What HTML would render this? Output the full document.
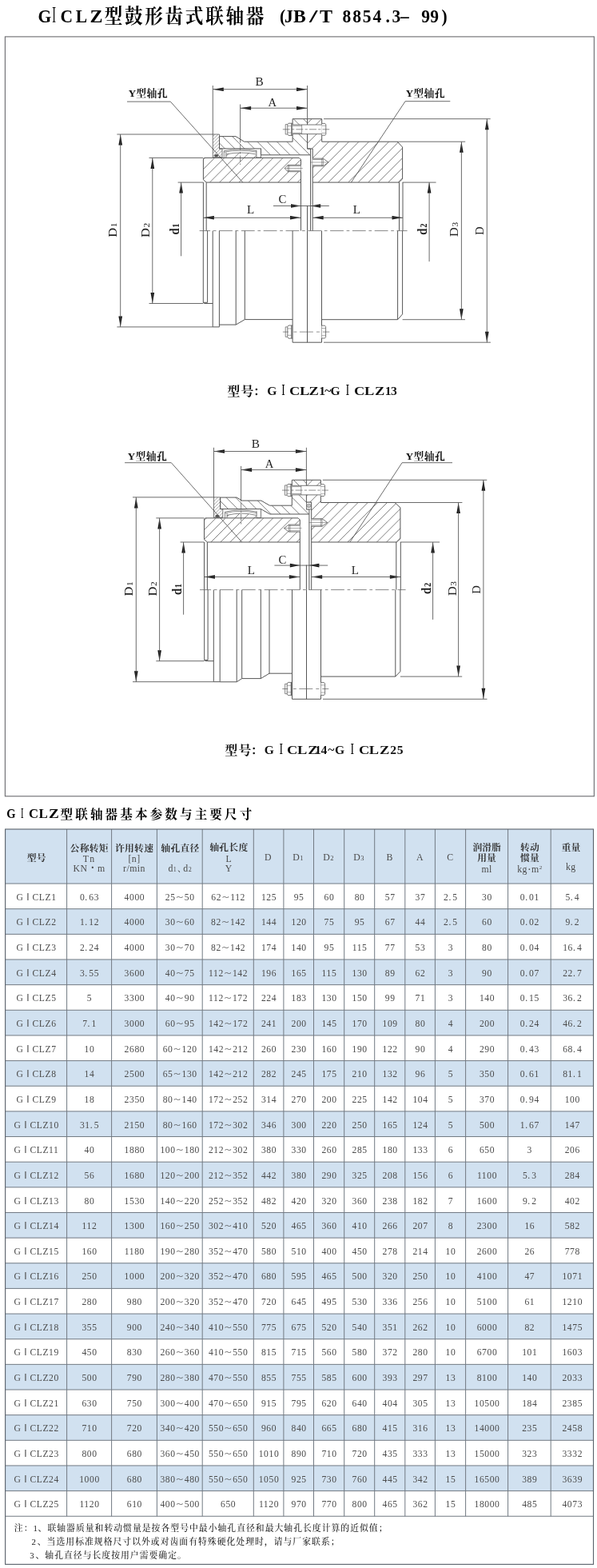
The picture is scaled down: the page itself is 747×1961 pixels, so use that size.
<!DOCTYPE html>
<html lang="zh"><head><meta charset="utf-8"><title>GICLZ型鼓形齿式联轴器 (JB/T 8854.3-99)</title>
<style>
html,body{margin:0;padding:0;background:#fff}
body{width:747px;height:1961px;position:relative;overflow:hidden;font-family:"Liberation Serif",serif}
svg text{white-space:pre}
.cjkb{font-family:"Liberation Serif","Noto Serif CJK SC",serif;font-weight:bold}
.cjkm{font-family:"Liberation Serif","Noto Serif CJK SC",serif;font-weight:500}
</style></head><body>
<svg width="747" height="1961" viewBox="0 0 747 1961" style="position:absolute;left:0;top:0;display:block;will-change:transform"><g transform="translate(0 28) scale(1 1.07) translate(0 -28)"><text style="font-family:'Liberation Serif',serif;font-weight:bold;font-size:21.5px" y="28" x="47.5">G</text><path d="M65.8 10.3h3.6v0.8h-1.2v15.8h1.2v0.8h-3.6v-0.8h1.2v-15.8h-1.2z" fill="#000"/><text style="font-family:'Liberation Serif',serif;font-weight:bold;font-size:21.5px" y="28" x="75.6 94.8 112.4">CL<tspan textLength="16" lengthAdjust="spacingAndGlyphs">Z</tspan></text><text style="font-family:'Liberation Serif',serif;font-weight:bold;font-size:21.5px" y="28"><tspan x="350">(</tspan><tspan x="356">J</tspan><tspan x="367.1" textLength="15.77" lengthAdjust="spacingAndGlyphs">B</tspan><tspan x="386.9" textLength="10.46" lengthAdjust="spacingAndGlyphs">/</tspan><tspan x="399.9" textLength="16.06" lengthAdjust="spacingAndGlyphs">T</tspan><tspan x="428.6">8</tspan><tspan x="441.2">8</tspan><tspan x="453.8">5</tspan><tspan x="466.4">4</tspan><tspan x="482.5">.</tspan><tspan x="490.5">3</tspan><tspan x="501">–</tspan><tspan x="527.3">9</tspan><tspan x="538.3">9</tspan><tspan x="552.5">)</tspan></text></g><text class="cjkb" transform="translate(130.8 28.9) scale(1 1.097)" x="0" y="0" fill="#000" style="font-size:22.6px;letter-spacing:2.67px">型鼓形齿式联轴器</text><rect x="6.4" y="45.9" width="737" height="949.9" fill="none" stroke="#707074" stroke-width="1.15"/><clipPath id="c1"><path d="M254.4 198.6L255.6 197.4L374.3 197.4L376.5 199.6L376.5 228.1L258.2 228.1L254.4 224.7L254.4 198.6L282.8 197.4L282.8 192.9L286.56 192.22L290.32 191.68L294.08 191.3L297.84 191.08L301.6 191L305.36 191.08L309.12 191.3L312.88 191.68L316.64 192.22L320.4 192.9L320.4 197.4L254.4 198.6Z" clip-rule="evenodd"/></clipPath><path d="M225.8 228.1L262.9 191M238 228.1L275.1 191M250.2 228.1L287.3 191M262.4 228.1L299.5 191M274.6 228.1L311.7 191M286.8 228.1L323.9 191M299 228.1L336.1 191M311.2 228.1L348.3 191M323.4 228.1L360.5 191M335.6 228.1L372.7 191M347.8 228.1L384.9 191M360 228.1L397.1 191M372.2 228.1L409.3 191" stroke="#5c5c5c" stroke-width="0.8" fill="none" clip-path="url(#c1)"/><path d="M254.4 198.6L255.6 197.4L374.3 197.4L376.5 199.6L376.5 228.1L258.2 228.1L254.4 224.7Z" stroke="#565656" stroke-width="1" fill="none"/><clipPath id="c2"><path d="M384.5 148.7L402.7 148.7L402.7 177.2L497.2 177.2L503.6 184L503.6 223.9L499 228.1L391.2 228.1L391.2 186L384.5 186Z" clip-rule="evenodd"/></clipPath><path d="M310.7 228.1L390.1 148.7M323.2 228.1L402.6 148.7M335.7 228.1L415.1 148.7M348.2 228.1L427.6 148.7M360.7 228.1L440.1 148.7M373.2 228.1L452.6 148.7M385.7 228.1L465.1 148.7M398.2 228.1L477.6 148.7M410.7 228.1L490.1 148.7M423.2 228.1L502.6 148.7M435.7 228.1L515.1 148.7M448.2 228.1L527.6 148.7M460.7 228.1L540.1 148.7M473.2 228.1L552.6 148.7M485.7 228.1L565.1 148.7M498.2 228.1L577.6 148.7" stroke="#5c5c5c" stroke-width="0.8" fill="none" clip-path="url(#c2)"/><path d="M384.5 148.7L402.7 148.7L402.7 177.2L497.2 177.2L503.6 184L503.6 223.9L499 228.1L391.2 228.1L391.2 186L384.5 186Z" stroke="#565656" stroke-width="1" fill="none"/><clipPath id="c3"><path d="M274.5 170.6L295 170.6L305.6 177.2L366.1 177.2L366.1 148.7L384.5 148.7L384.5 186L388.6 186L388.6 193.8L326.5 193.8L326.5 185.9L274.5 185.9Z" clip-rule="evenodd"/></clipPath><path d="M231.9 148.7L277 193.8M244.2 148.7L289.3 193.8M256.5 148.7L301.6 193.8M268.8 148.7L313.9 193.8M281.1 148.7L326.2 193.8M293.4 148.7L338.5 193.8M305.7 148.7L350.8 193.8M318 148.7L363.1 193.8M330.3 148.7L375.4 193.8M342.6 148.7L387.7 193.8M354.9 148.7L400 193.8M367.2 148.7L412.3 193.8M379.5 148.7L424.6 193.8" stroke="#5c5c5c" stroke-width="0.8" fill="none" clip-path="url(#c3)"/><path d="M384.5 186L388.6 186L388.6 193.8L326.5 193.8L326.5 185.9L274.5 185.9L274.5 170.6L295 170.6L305.6 177.2L366.1 177.2L366.1 148.7L384.5 148.7" stroke="#565656" stroke-width="1" fill="none"/><clipPath id="c4"><path d="M266.3 168L274.5 168L274.5 186.1L278 186.1L278 196.8L266.3 196.8Z" clip-rule="evenodd"/></clipPath><path d="M240 196.8L268.8 168M244.2 196.8L273 168M248.4 196.8L277.2 168M252.6 196.8L281.4 168M256.8 196.8L285.6 168M261 196.8L289.8 168M265.2 196.8L294 168M269.4 196.8L298.2 168M273.6 196.8L302.4 168M277.8 196.8L306.6 168" stroke="#5c5c5c" stroke-width="0.55" fill="none" clip-path="url(#c4)"/><path d="M266.3 168L274.5 168L274.5 186.1L278 186.1L278 196.8L266.3 196.8Z" stroke="#565656" stroke-width="0.8" fill="none"/><ellipse cx="270.6" cy="194.6" rx="2.6" ry="1.7" fill="#555"/><path d="M280.3 188.7Q300.6 184.9 320.9 188.7" stroke="#565656" stroke-width="0.7" fill="none"/><path d="M280.3 190.2Q300.6 186.4 320.9 190.2" stroke="#565656" stroke-width="0.6" fill="none"/><path d="M282.8 192.9Q301.6 189.1 320.4 192.9" stroke="#565656" stroke-width="0.7" fill="none"/><path d="M280.3 188.7V197.4 M282.8 190.2V197.4" stroke="#565656" stroke-width="0.7" fill="none"/><path d="M320.9 187.9V197.1H326.5V185.7" stroke="#565656" stroke-width="0.8" fill="none"/><rect x="366.1" y="156" width="36.6" height="11.6" fill="#fff"/><path d="M359.9 155.6L357.2 155.6L357.2 168L359.9 168" stroke="#565656" stroke-width="0.7" fill="none"/><path d="M364.9 154.2L361 154.2L359.8 155.8L359.8 167.8L361 169.4L364.9 169.4Z" stroke="#565656" stroke-width="0.8" fill="#fff"/><path d="M364.9 154.2V169.4H366.1M364.9 154.2H366.1" stroke="#565656" stroke-width="0.7" fill="none"/><path d="M359.8 157.6H364.9 M359.8 166H364.9" stroke="#666" stroke-width="0.55" fill="none"/><path d="M402.7 154.4L406.7 154.4L407.8 155.8L407.8 167.8L406.7 169.2L402.7 169.2" stroke="#565656" stroke-width="0.8" fill="#fff"/><path d="M402.7 157.2H407.8 M402.7 166.4H407.8" stroke="#666" stroke-width="0.55" fill="none"/><path d="M366.1 156H402.7 M366.1 167.6H402.7" stroke="#565656" stroke-width="0.8" fill="none"/><path d="M366.1 157.3H377.6 M366.1 166.3H377.6 M377.6 156V167.6" stroke="#565656" stroke-width="0.6" fill="none"/><path d="M353.8 161.8H412.2" stroke="#565656" stroke-width="0.65" fill="none" stroke-dasharray="9 2.2 3.2 2.2"/><path d="M376.5 206.3L360.2 206.3L356.1 210.5L360.2 214.7L376.5 214.7" stroke="#565656" stroke-width="0.8" fill="#fff"/><path d="M376.5 207.6H360.2 M376.5 213.4H360.2 M360.2 206.3V214.7" stroke="#565656" stroke-width="0.6" fill="none"/><path d="M361.8 206.3V214.7" stroke="#565656" stroke-width="0.5" fill="none"/><path d="M356.1 210.5H378.8" stroke="#565656" stroke-width="0.5" fill="none"/><path d="M391.2 198.2L404.3 198.2L411 203L404.3 207.8L391.2 207.8" stroke="#565656" stroke-width="0.8" fill="#fff"/><path d="M391.2 199.5H404.3 M391.2 206.5H404.3 M404.3 198.2V207.8" stroke="#565656" stroke-width="0.6" fill="none"/><path d="M402.7 198.2V207.8" stroke="#565656" stroke-width="0.5" fill="none"/><path d="M411 203H388.2" stroke="#565656" stroke-width="0.5" fill="none"/><path d="M254.4 228.1V288.6M258.2 228.1V288.6M376.5 228.1V288.6M388.6 193.8V288.6M499.5 228.1V288.6M504 228.1V288.6M391.2 228.1V288.6M384.5 257V288.6" stroke="#565656" stroke-width="1" fill="none"/><path d="M254.3 288.6V378.3H259.6V288.6M254.3 378L255.6 379.5L266.2 379.5M266.2 288.6V408.9H274.4V288.6M274.4 406.1L295.2 406.1L306.3 399.6L366.1 399.6M295.2 288.6V406.1M306.3 288.6V399.6M366.1 288.6V428.2H402.5V288.6M384.5 288.6V428.2M402.5 399.7L497.6 399.7L503.6 392.9L503.6 288.6M497.6 288.6V399.7" stroke="#565656" stroke-width="1" fill="none"/><path d="M359.9 408.9L357.2 408.9L357.2 421.3L359.9 421.3" stroke="#565656" stroke-width="0.7" fill="none"/><path d="M364.9 407L361 407L359.8 408.6L359.8 421.6L361 423.2L364.9 423.2Z" stroke="#565656" stroke-width="0.8" fill="#fff"/><path d="M364.9 407V423.2H366.1M364.9 407H366.1" stroke="#565656" stroke-width="0.7" fill="none"/><path d="M359.8 410.9H364.9 M359.8 419.3H364.9" stroke="#666" stroke-width="0.55" fill="none"/><path d="M402.5 407.2L406.5 407.2L407.6 408.6L407.6 421.6L406.5 423L402.5 423" stroke="#565656" stroke-width="0.8" fill="#fff"/><path d="M402.5 410.5H407.6 M402.5 419.7H407.6" stroke="#666" stroke-width="0.55" fill="none"/><path d="M353.9 415.1H412.3" stroke="#565656" stroke-width="0.65" fill="none" stroke-dasharray="7 6.5 4 3.5 17 4 4 4 9 0"/><path d="M249.6 288.6H509.6" stroke="#565656" stroke-width="0.7" fill="none" stroke-dasharray="16.8 3.7 3.7 3.6" stroke-dashoffset="3.3"/><text x="160.7" y="120.7" style="font-family:'Liberation Serif',serif;font-weight:bold;font-size:13.4px" fill="#111" textLength="9.4" lengthAdjust="spacingAndGlyphs">Y</text><text class="cjkb" x="170.3" y="121.3" fill="#111" style="font-size:12.8px;letter-spacing:0.45px">型轴孔</text><path d="M159 127.1H213.3M213.3 127.1L303.8 228.1" stroke="#505050" stroke-width="0.85" fill="none"/><text x="507.7" y="120.7" style="font-family:'Liberation Serif',serif;font-weight:bold;font-size:13.4px" fill="#111" textLength="9.4" lengthAdjust="spacingAndGlyphs">Y</text><text class="cjkb" x="517.3" y="121.3" fill="#111" style="font-size:12.8px;letter-spacing:0.45px">型轴孔</text><path d="M507.1 126.7H563.3M507.1 126.7L439.4 228.1" stroke="#505050" stroke-width="0.85" fill="none"/><path d="M266.3 111.7L279.8 109.4L279.8 114Z" fill="#111"/><path d="M384.5 111.7L371 109.4L371 114Z" fill="#111"/><text x="319.6" y="106.5" textLength="10.2" lengthAdjust="spacingAndGlyphs" style="font-family:'Liberation Serif',serif;font-size:13.6px" fill="#222">B</text><path d="M300.6 135.2L314.1 132.9L314.1 137.5Z" fill="#111"/><path d="M384.5 135.2L371 132.9L371 137.5Z" fill="#111"/><text x="335.5" y="132.6" textLength="10.6" lengthAdjust="spacingAndGlyphs" style="font-family:'Liberation Serif',serif;font-size:13.6px" fill="#222">A</text><path d="M300.6 180V206" stroke="#565656" stroke-width="0.7" fill="none" stroke-dasharray="8 2 2.5 2"/><path d="M150.7 168L148.4 181.5L153 181.5Z" fill="#111"/><path d="M150.7 408.9L148.4 395.4L153 395.4Z" fill="#111"/><text transform="translate(146.1 296.85) rotate(-90)" textLength="18.2" lengthAdjust="spacingAndGlyphs" style="font-family:'Liberation Serif',serif;font-size:15.2px;" fill="#222">D<tspan style="font-size:10.5px" dx="0.6">1</tspan></text><path d="M190.8 197.4L188.5 210.9L193.1 210.9Z" fill="#111"/><path d="M190.8 379.5L188.5 366L193.1 366Z" fill="#111"/><text transform="translate(186.8 297) rotate(-90)" textLength="18.2" lengthAdjust="spacingAndGlyphs" style="font-family:'Liberation Serif',serif;font-size:15.2px;" fill="#222">D<tspan style="font-size:10.5px" dx="0.6">2</tspan></text><path d="M226.6 228.1L224.3 241.6L228.9 241.6Z" fill="#111"/><text transform="translate(223.8 293.8) rotate(-90)" textLength="14.3" lengthAdjust="spacingAndGlyphs" style="font-family:'Liberation Serif',serif;font-size:16.8px;font-weight:bold;" fill="#222">d<tspan style="font-size:11.5px" dx="0.6">1</tspan></text><path d="M254.4 272.3L267.9 270L267.9 274.6Z" fill="#111"/><path d="M376.5 272.3L363 270L363 274.6Z" fill="#111"/><text x="309.1" y="267.1" textLength="9.2" lengthAdjust="spacingAndGlyphs" style="font-family:'Liberation Serif',serif;font-size:13.6px" fill="#222">L</text><path d="M376.5 257.5L364 255.2L364 259.8Z" fill="#111"/><path d="M388.6 257.5L401.1 255.2L401.1 259.8Z" fill="#111"/><text x="348.6" y="254.3" textLength="9.8" lengthAdjust="spacingAndGlyphs" style="font-family:'Liberation Serif',serif;font-size:13.6px" fill="#222">C</text><path d="M391.2 272.3L404.7 270L404.7 274.6Z" fill="#111"/><path d="M504 272.3L490.5 270L490.5 274.6Z" fill="#111"/><text x="441.7" y="267.1" textLength="9.2" lengthAdjust="spacingAndGlyphs" style="font-family:'Liberation Serif',serif;font-size:13.6px" fill="#222">L</text><path d="M537.1 228.1L534.8 241.6L539.4 241.6Z" fill="#111"/><text transform="translate(534.1 293.9) rotate(-90)" textLength="14.3" lengthAdjust="spacingAndGlyphs" style="font-family:'Liberation Serif',serif;font-size:16.8px;font-weight:bold;" fill="#222">d<tspan style="font-size:11.5px" dx="0.6">2</tspan></text><path d="M577.4 177.2L575.1 190.7L579.7 190.7Z" fill="#111"/><path d="M577.4 399.7L575.1 386.2L579.7 386.2Z" fill="#111"/><text transform="translate(573.3 296.15) rotate(-90)" textLength="18.4" lengthAdjust="spacingAndGlyphs" style="font-family:'Liberation Serif',serif;font-size:15.2px;" fill="#222">D<tspan style="font-size:10.5px" dx="0.6">3</tspan></text><path d="M609.3 148.7L607 162.2L611.6 162.2Z" fill="#111"/><path d="M609.3 428.2L607 414.7L611.6 414.7Z" fill="#111"/><text transform="translate(604.8 293.9) rotate(-90)" textLength="10.6" lengthAdjust="spacingAndGlyphs" style="font-family:'Liberation Serif',serif;font-size:15.2px;" fill="#222">D</text><path d="M266.3 107L266.3 168M384.5 107L384.5 148.7M266.3 111.7L384.5 111.7M300.6 130.5L300.6 178.5M300.6 135.2L384.5 135.2M150.7 168L150.7 408.9M146.4 168L266.3 168M146.4 408.9L266.2 408.9M190.8 197.4L190.8 379.5M186.5 197.4L254.4 197.4M186.5 379.5L254.3 379.5M226.6 228.1L226.6 320.3M222.6 228.1L254.4 228.1M254.4 272.3L376.5 272.3M342 257.5L411.8 257.5M391.2 272.3L504 272.3M537.1 228.1L537.1 327.1M503.6 228.1L545.6 228.1M577.4 177.2L577.4 399.7M497.2 177.2L582.2 177.2M503.6 399.7L582 399.7M609.3 148.7L609.3 428.2M405.1 148.7L613.7 148.7M405 428.2L613.9 428.2" stroke="#505050" stroke-width="0.85" fill="none"/><clipPath id="c5"><path d="M255.5 649.1L256.7 647.9L373.1 647.9L375.3 650.1L375.3 678L259.4 678L255.5 674.6L255.5 649.1L284 647.9L284 644.4L287.66 643.57L291.32 642.93L294.98 642.47L298.64 642.19L302.3 642.1L305.96 642.19L309.62 642.47L313.28 642.93L316.94 643.57L320.6 644.4L320.6 647.9L255.5 649.1Z" clip-rule="evenodd"/></clipPath><path d="M228.3 678L264.2 642.1M240.2 678L276.1 642.1M252.1 678L288 642.1M264 678L299.9 642.1M275.9 678L311.8 642.1M287.8 678L323.7 642.1M299.7 678L335.6 642.1M311.6 678L347.5 642.1M323.5 678L359.4 642.1M335.4 678L371.3 642.1M347.3 678L383.2 642.1M359.2 678L395.1 642.1M371.1 678L407 642.1" stroke="#5c5c5c" stroke-width="0.8" fill="none" clip-path="url(#c5)"/><path d="M255.5 649.1L256.7 647.9L373.1 647.9L375.3 650.1L375.3 678L259.4 678L255.5 674.6Z" stroke="#565656" stroke-width="1" fill="none"/><clipPath id="c6"><path d="M383.4 600.3L401.4 600.3L401.4 628.5L494 628.5L500.9 634.9L500.9 673.8L496.3 678L389.7 678L389.7 636.9L389.6 636.9L389.6 628.2L383.4 628.2Z" clip-rule="evenodd"/></clipPath><path d="M313.5 678L391.2 600.3M325.65 678L403.35 600.3M337.8 678L415.5 600.3M349.95 678L427.65 600.3M362.1 678L439.8 600.3M374.25 678L451.95 600.3M386.4 678L464.1 600.3M398.55 678L476.25 600.3M410.7 678L488.4 600.3M422.85 678L500.55 600.3M435 678L512.7 600.3M447.15 678L524.85 600.3M459.3 678L537 600.3M471.45 678L549.15 600.3M483.6 678L561.3 600.3M495.75 678L573.45 600.3" stroke="#5c5c5c" stroke-width="0.8" fill="none" clip-path="url(#c6)"/><path d="M383.4 600.3L401.4 600.3L401.4 628.5L494 628.5L500.9 634.9L500.9 673.8L496.3 678L389.7 678L389.7 636.9L389.6 636.9L389.6 628.2L383.4 628.2Z" stroke="#565656" stroke-width="1" fill="none"/><clipPath id="c7"><path d="M275.6 622.1L296.2 622.1L302.8 626.1L326.8 626.1L337.4 632.2L365.3 632.2L365.3 600.3L383.4 600.3L383.4 636.9L386.9 636.9L386.9 643L337.7 643L326.5 636.6L275.6 636.6Z" clip-rule="evenodd"/></clipPath><path d="M237.5 600.3L280.2 643M249.3 600.3L292 643M261.1 600.3L303.8 643M272.9 600.3L315.6 643M284.7 600.3L327.4 643M296.5 600.3L339.2 643M308.3 600.3L351 643M320.1 600.3L362.8 643M331.9 600.3L374.6 643M343.7 600.3L386.4 643M355.5 600.3L398.2 643M367.3 600.3L410 643M379.1 600.3L421.8 643" stroke="#5c5c5c" stroke-width="0.8" fill="none" clip-path="url(#c7)"/><path d="M383.4 636.9L386.9 636.9L386.9 643L337.7 643L326.5 636.6L275.6 636.6L275.6 622.1L296.2 622.1L302.8 626.1L326.8 626.1L337.4 632.2L365.3 632.2L365.3 600.3L383.4 600.3" stroke="#565656" stroke-width="1" fill="none"/><clipPath id="c8"><path d="M267.5 621.9L275.6 621.9L275.6 636.6L278.8 636.6L278.8 647.4L267.5 647.4Z" clip-rule="evenodd"/></clipPath><path d="M243 647.4L268.5 621.9M247.2 647.4L272.7 621.9M251.4 647.4L276.9 621.9M255.6 647.4L281.1 621.9M259.8 647.4L285.3 621.9M264 647.4L289.5 621.9M268.2 647.4L293.7 621.9M272.4 647.4L297.9 621.9M276.6 647.4L302.1 621.9" stroke="#5c5c5c" stroke-width="0.55" fill="none" clip-path="url(#c8)"/><path d="M267.5 621.9L275.6 621.9L275.6 636.6L278.8 636.6L278.8 647.4L267.5 647.4Z" stroke="#565656" stroke-width="0.8" fill="none"/><ellipse cx="271.8" cy="645.4" rx="2.6" ry="1.7" fill="#555"/><path d="M281.5 640.2Q301.3 635.6 321.1 640.2" stroke="#565656" stroke-width="0.7" fill="none"/><path d="M281.5 641.7Q301.3 637.1 321.1 641.7" stroke="#565656" stroke-width="0.6" fill="none"/><path d="M284 644.4Q302.3 639.8 320.6 644.4" stroke="#565656" stroke-width="0.7" fill="none"/><path d="M281.5 640.2V647.9 M284 641.7V647.9" stroke="#565656" stroke-width="0.7" fill="none"/><path d="M321.1 639.4V647.6H326.5V636.6" stroke="#565656" stroke-width="0.8" fill="none"/><rect x="365.3" y="607.3" width="36.1" height="11.6" fill="#fff"/><path d="M359.1 606.9L356.4 606.9L356.4 619.3L359.1 619.3" stroke="#565656" stroke-width="0.7" fill="none"/><path d="M364.1 605.5L360.2 605.5L359 607.1L359 619.1L360.2 620.7L364.1 620.7Z" stroke="#565656" stroke-width="0.8" fill="#fff"/><path d="M364.1 605.5V620.7H365.3M364.1 605.5H365.3" stroke="#565656" stroke-width="0.7" fill="none"/><path d="M359 608.9H364.1 M359 617.3H364.1" stroke="#666" stroke-width="0.55" fill="none"/><path d="M401.4 605.7L405.4 605.7L406.5 607.1L406.5 619.1L405.4 620.5L401.4 620.5" stroke="#565656" stroke-width="0.8" fill="#fff"/><path d="M401.4 608.5H406.5 M401.4 617.7H406.5" stroke="#666" stroke-width="0.55" fill="none"/><path d="M365.3 607.3H401.4 M365.3 618.9H401.4" stroke="#565656" stroke-width="0.8" fill="none"/><path d="M365.3 608.6H376.8 M365.3 617.6H376.8 M376.8 607.3V618.9" stroke="#565656" stroke-width="0.6" fill="none"/><path d="M353 613.1H410.9" stroke="#565656" stroke-width="0.65" fill="none" stroke-dasharray="9 2.2 3.2 2.2"/><path d="M375.3 656.1L361.5 656.1L355.4 660.6L361.5 665.1L375.3 665.1" stroke="#565656" stroke-width="0.8" fill="#fff"/><path d="M375.3 657.4H361.5 M375.3 663.8H361.5 M361.5 656.1V665.1" stroke="#565656" stroke-width="0.6" fill="none"/><path d="M363.1 656.1V665.1" stroke="#565656" stroke-width="0.5" fill="none"/><path d="M355.4 660.6H377.6" stroke="#565656" stroke-width="0.5" fill="none"/><path d="M389.7 648.7L403 648.7L409.7 653.5L403 658.3L389.7 658.3" stroke="#565656" stroke-width="0.8" fill="#fff"/><path d="M389.7 650H403 M389.7 657H403 M403 648.7V658.3" stroke="#565656" stroke-width="0.6" fill="none"/><path d="M401.4 648.7V658.3" stroke="#565656" stroke-width="0.5" fill="none"/><path d="M409.7 653.5H386.7" stroke="#565656" stroke-width="0.5" fill="none"/><rect x="383.4" y="628.2" width="6.2" height="8.7" fill="#fff" stroke="#565656" stroke-width="0.8"/><circle cx="386.5" cy="632.55" r="2.1" fill="none" stroke="#565656" stroke-width="0.7"/><path d="M384.8 630.4L388.2 634.7M388.2 630.4L384.8 634.7" stroke="#565656" stroke-width="0.5" fill="none"/><path d="M255.5 678V737.6M259.4 678V737.6M375.3 678V737.6M386.9 643V737.6M495.8 678V737.6M501.3 678V737.6M389.7 678V737.6M383.4 706.6V737.6" stroke="#565656" stroke-width="1" fill="none"/><path d="M255.7 737.6V825.5H260.1V737.6M255.7 825.2L257 826.7L267.3 826.7M267.3 737.6V852.7H275.2V737.6M275.2 852.8L296.2 852.8L302.7 848.6L326.3 848.6L337 842.2L365.5 842.2M296.2 737.6V852.8M302.7 737.6V848.6M326.3 737.6V848.6M337 737.6V842.2M365.5 737.6V874.3H401.5V737.6M383.5 737.6V874.3M401.5 846.1L494.8 846.1L500.9 839.7L500.9 737.6M494.8 737.6V846.1" stroke="#565656" stroke-width="1" fill="none"/><path d="M359.3 855.3L356.6 855.3L356.6 867.7L359.3 867.7" stroke="#565656" stroke-width="0.7" fill="none"/><path d="M364.3 853.4L360.4 853.4L359.2 855L359.2 868L360.4 869.6L364.3 869.6Z" stroke="#565656" stroke-width="0.8" fill="#fff"/><path d="M364.3 853.4V869.6H365.5M364.3 853.4H365.5" stroke="#565656" stroke-width="0.7" fill="none"/><path d="M359.2 857.3H364.3 M359.2 865.7H364.3" stroke="#666" stroke-width="0.55" fill="none"/><path d="M401.5 853.6L405.5 853.6L406.6 855L406.6 868L405.5 869.4L401.5 869.4" stroke="#565656" stroke-width="0.8" fill="#fff"/><path d="M401.5 856.9H406.6 M401.5 866.1H406.6" stroke="#666" stroke-width="0.55" fill="none"/><path d="M353.3 861.5H411.3" stroke="#565656" stroke-width="0.65" fill="none" stroke-dasharray="7 6.5 4 3.5 17 4 4 4 9 0"/><path d="M250 737.6H507.6" stroke="#565656" stroke-width="0.7" fill="none" stroke-dasharray="16.8 3.7 3.7 3.6" stroke-dashoffset="2.7"/><text x="159.8" y="574.7" style="font-family:'Liberation Serif',serif;font-weight:bold;font-size:13.4px" fill="#111" textLength="9.4" lengthAdjust="spacingAndGlyphs">Y</text><text class="cjkb" x="169.4" y="575.3" fill="#111" style="font-size:12.8px;letter-spacing:0.45px">型轴孔</text><path d="M156.1 578.7H214.3M214.3 578.7L302.6 678" stroke="#505050" stroke-width="0.85" fill="none"/><text x="507.8" y="574.7" style="font-family:'Liberation Serif',serif;font-weight:bold;font-size:13.4px" fill="#111" textLength="9.4" lengthAdjust="spacingAndGlyphs">Y</text><text class="cjkb" x="517.4" y="575.3" fill="#111" style="font-size:12.8px;letter-spacing:0.45px">型轴孔</text><path d="M503.1 578.7H566M503.1 578.7L437.8 678" stroke="#505050" stroke-width="0.85" fill="none"/><path d="M267.5 564.5L281 562.2L281 566.8Z" fill="#111"/><path d="M383.4 564.5L369.9 562.2L369.9 566.8Z" fill="#111"/><text x="314.8" y="560" textLength="10.2" lengthAdjust="spacingAndGlyphs" style="font-family:'Liberation Serif',serif;font-size:13.6px" fill="#222">B</text><path d="M301.6 587.6L315.1 585.3L315.1 589.9Z" fill="#111"/><path d="M383.4 587.6L369.9 585.3L369.9 589.9Z" fill="#111"/><text x="331.7" y="584.6" textLength="10.6" lengthAdjust="spacingAndGlyphs" style="font-family:'Liberation Serif',serif;font-size:13.6px" fill="#222">A</text><path d="M301.6 628.5V656" stroke="#565656" stroke-width="0.7" fill="none" stroke-dasharray="8 2 2.5 2"/><path d="M170.3 621.9L168 635.4L172.6 635.4Z" fill="#111"/><path d="M170.3 852.7L168 839.2L172.6 839.2Z" fill="#111"/><text transform="translate(165.7 745.45) rotate(-90)" textLength="18.2" lengthAdjust="spacingAndGlyphs" style="font-family:'Liberation Serif',serif;font-size:15.2px;" fill="#222">D<tspan style="font-size:10.5px" dx="0.6">1</tspan></text><path d="M199.6 647.9L197.3 661.4L201.9 661.4Z" fill="#111"/><path d="M199.6 826.7L197.3 813.2L201.9 813.2Z" fill="#111"/><text transform="translate(196.2 745.45) rotate(-90)" textLength="18.2" lengthAdjust="spacingAndGlyphs" style="font-family:'Liberation Serif',serif;font-size:15.2px;" fill="#222">D<tspan style="font-size:10.5px" dx="0.6">2</tspan></text><path d="M229.6 678L227.3 691.5L231.9 691.5Z" fill="#111"/><text transform="translate(226.7 744.3) rotate(-90)" textLength="14.3" lengthAdjust="spacingAndGlyphs" style="font-family:'Liberation Serif',serif;font-size:16.8px;font-weight:bold;" fill="#222">d<tspan style="font-size:11.5px" dx="0.6">1</tspan></text><path d="M255.5 721.5L269 719.2L269 723.8Z" fill="#111"/><path d="M375.3 721.5L361.8 719.2L361.8 723.8Z" fill="#111"/><text x="309.7" y="717.7" textLength="9.2" lengthAdjust="spacingAndGlyphs" style="font-family:'Liberation Serif',serif;font-size:13.6px" fill="#222">L</text><path d="M375.3 707.1L362.8 704.8L362.8 709.4Z" fill="#111"/><path d="M386.9 707.1L399.4 704.8L399.4 709.4Z" fill="#111"/><text x="348.6" y="704.8" textLength="9.8" lengthAdjust="spacingAndGlyphs" style="font-family:'Liberation Serif',serif;font-size:13.6px" fill="#222">C</text><path d="M389.7 721.5L403.2 719.2L403.2 723.8Z" fill="#111"/><path d="M501.3 721.5L487.8 719.2L487.8 723.8Z" fill="#111"/><text x="439.7" y="717.7" textLength="9.2" lengthAdjust="spacingAndGlyphs" style="font-family:'Liberation Serif',serif;font-size:13.6px" fill="#222">L</text><path d="M541.6 678L539.3 691.5L543.9 691.5Z" fill="#111"/><text transform="translate(538.8 743.15) rotate(-90)" textLength="14.3" lengthAdjust="spacingAndGlyphs" style="font-family:'Liberation Serif',serif;font-size:16.8px;font-weight:bold;" fill="#222">d<tspan style="font-size:11.5px" dx="0.6">2</tspan></text><path d="M573.6 628.5L571.3 642L575.9 642Z" fill="#111"/><path d="M573.6 846.1L571.3 832.6L575.9 832.6Z" fill="#111"/><text transform="translate(570.7 745.3) rotate(-90)" textLength="18.4" lengthAdjust="spacingAndGlyphs" style="font-family:'Liberation Serif',serif;font-size:15.2px;" fill="#222">D<tspan style="font-size:10.5px" dx="0.6">3</tspan></text><path d="M604.9 600.3L602.6 613.8L607.2 613.8Z" fill="#111"/><path d="M604.9 874.3L602.6 860.8L607.2 860.8Z" fill="#111"/><text transform="translate(601.4 742.8) rotate(-90)" textLength="10.6" lengthAdjust="spacingAndGlyphs" style="font-family:'Liberation Serif',serif;font-size:15.2px;" fill="#222">D</text><path d="M267.5 559.8L267.5 621.9M383.4 559.8L383.4 600.3M267.5 564.5L383.4 564.5M301.6 582.9L301.6 627M301.6 587.6L383.4 587.6M170.3 621.9L170.3 852.7M166 621.9L267.5 621.9M166 852.7L267.3 852.7M199.6 647.9L199.6 826.7M195.3 647.9L255.5 647.9M195.3 826.7L255.7 826.7M229.6 678L229.6 768.7M225.6 678L255.5 678M255.5 721.5L375.3 721.5M343.4 707.1L410.2 707.1M389.7 721.5L501.3 721.5M541.6 678L541.6 774.9M500.9 678L550.1 678M573.6 628.5L573.6 846.1M494 628.5L578.4 628.5M500.9 846.1L578.2 846.1M604.9 600.3L604.9 874.3M403.8 600.3L609.3 600.3M404 874.3L609.5 874.3" stroke="#505050" stroke-width="0.85" fill="none"/><text class="cjkb" x="284.6" y="494.8" fill="#111" style="font-size:15.8px;letter-spacing:1.2px">型号</text><circle cx="320.9" cy="486.9" r="1.25" fill="#111"/><circle cx="320.9" cy="492.9" r="1.25" fill="#111"/><text style="font-family:'Liberation Serif',serif;font-weight:bold;font-size:15.6px" y="493.8" fill="#111"><tspan x="334.3">G</tspan><tspan x="362" textLength="13.29" lengthAdjust="spacingAndGlyphs">C</tspan><tspan x="375" textLength="12.28" lengthAdjust="spacingAndGlyphs">L</tspan><tspan x="386.6" textLength="12.28" lengthAdjust="spacingAndGlyphs">Z</tspan><tspan x="399.2">1</tspan><tspan x="406.3">~</tspan><tspan x="413.4">G</tspan><tspan x="443" textLength="13.29" lengthAdjust="spacingAndGlyphs">C</tspan><tspan x="456.1" textLength="12.28" lengthAdjust="spacingAndGlyphs">L</tspan><tspan x="469" textLength="12.28" lengthAdjust="spacingAndGlyphs">Z</tspan><tspan x="481.7">1</tspan><tspan x="489">3</tspan></text><path d="M352.85 481h3.3v0.75H355.12V493.15H356.15v0.75h-3.3v-0.75H353.88V481.75H352.85z" fill="#000"/><path d="M433.25 481h3.3v0.75H435.52V493.15H436.55v0.75h-3.3v-0.75H434.27V481.75H433.25z" fill="#000"/><text class="cjkb" x="281.4" y="943.8" fill="#111" style="font-size:15.8px;letter-spacing:1.2px">型号</text><circle cx="317.7" cy="935.9" r="1.25" fill="#111"/><circle cx="317.7" cy="941.9" r="1.25" fill="#111"/><text style="font-family:'Liberation Serif',serif;font-weight:bold;font-size:15.6px" y="942.8" fill="#111"><tspan x="330.7">G</tspan><tspan x="359.1" textLength="13.29" lengthAdjust="spacingAndGlyphs">C</tspan><tspan x="372.1" textLength="12.28" lengthAdjust="spacingAndGlyphs">L</tspan><tspan x="385.2" textLength="12.28" lengthAdjust="spacingAndGlyphs">Z</tspan><tspan x="393.9">1</tspan><tspan x="401.6">4</tspan><tspan x="410.3">~</tspan><tspan x="419">G</tspan><tspan x="449" textLength="13.29" lengthAdjust="spacingAndGlyphs">C</tspan><tspan x="461.7" textLength="12.28" lengthAdjust="spacingAndGlyphs">L</tspan><tspan x="475" textLength="12.28" lengthAdjust="spacingAndGlyphs">Z</tspan><tspan x="488.2">2</tspan><tspan x="496.7">5</tspan></text><path d="M350.15 930h3.3v0.75H352.43V942.15H353.45v0.75h-3.3v-0.75H351.18V930.75H350.15z" fill="#000"/><path d="M439.15 930h3.3v0.75H441.43V942.15H442.45v0.75h-3.3v-0.75H440.18V930.75H439.15z" fill="#000"/><g transform="translate(0 1023) scale(1 1.1) translate(0 -1023)"><text style="font-family:'Liberation Serif',serif;font-weight:bold;font-size:14.5px" y="1023" x="8.2">G</text><text style="font-family:'Liberation Serif',serif;font-weight:bold;font-size:14.5px" y="1023"><tspan x="35.9" textLength="12" lengthAdjust="spacingAndGlyphs">C</tspan><tspan x="48.6" textLength="11.2" lengthAdjust="spacingAndGlyphs">L</tspan><tspan x="61.0" textLength="12.8" lengthAdjust="spacingAndGlyphs">Z</tspan></text></g><path d="M26.5 1011h2.6v0.7h-0.8v10.6h0.8v0.7h-2.6v-0.7h0.8v-10.6h-0.8z" fill="#000"/><text class="cjkb" x="75.6" y="1023.6" fill="#000" style="font-size:15.6px;letter-spacing:3.08px">型联轴器基本参数与主要尺寸</text><rect x="6.6" y="1037" width="735.9" height="68.05" fill="#d1e1f0"/><rect x="6.6" y="1136.7" width="735.9" height="31.65" fill="#d1e1f0"/><rect x="6.6" y="1199.99" width="735.9" height="31.65" fill="#d1e1f0"/><rect x="6.6" y="1263.29" width="735.9" height="31.65" fill="#d1e1f0"/><rect x="6.6" y="1326.59" width="735.9" height="31.65" fill="#d1e1f0"/><rect x="6.6" y="1389.88" width="735.9" height="31.65" fill="#d1e1f0"/><rect x="6.6" y="1453.18" width="735.9" height="31.65" fill="#d1e1f0"/><rect x="6.6" y="1516.47" width="735.9" height="31.65" fill="#d1e1f0"/><rect x="6.6" y="1579.77" width="735.9" height="31.65" fill="#d1e1f0"/><rect x="6.6" y="1643.07" width="735.9" height="31.65" fill="#d1e1f0"/><rect x="6.6" y="1706.36" width="735.9" height="31.65" fill="#d1e1f0"/><rect x="6.6" y="1769.66" width="735.9" height="31.65" fill="#d1e1f0"/><rect x="6.6" y="1832.95" width="735.9" height="31.65" fill="#d1e1f0"/><path d="M83.6 1037V1896.25M139.6 1037V1896.25M196.4 1037V1896.25M253.2 1037V1896.25M317.3 1037V1896.25M354.9 1037V1896.25M392.5 1037V1896.25M430.7 1037V1896.25M468.7 1037V1896.25M506.8 1037V1896.25M544.4 1037V1896.25M582.6 1037V1896.25M635.6 1037V1896.25M689.2 1037V1896.25M6.6 1105.05H742.5M6.6 1136.7H742.5M6.6 1168.35H742.5M6.6 1199.99H742.5M6.6 1231.64H742.5M6.6 1263.29H742.5M6.6 1294.94H742.5M6.6 1326.59H742.5M6.6 1358.23H742.5M6.6 1389.88H742.5M6.6 1421.53H742.5M6.6 1453.18H742.5M6.6 1484.83H742.5M6.6 1516.47H742.5M6.6 1548.12H742.5M6.6 1579.77H742.5M6.6 1611.42H742.5M6.6 1643.07H742.5M6.6 1674.71H742.5M6.6 1706.36H742.5M6.6 1738.01H742.5M6.6 1769.66H742.5M6.6 1801.31H742.5M6.6 1832.95H742.5M6.6 1864.6H742.5M6.6 1896.25H742.5" stroke="#727a83" stroke-width="1" fill="none"/><rect x="6.6" y="1037" width="735.9" height="919.4" fill="none" stroke="#5a626b" stroke-width="1.1"/><g style="font-family:'Liberation Serif',serif;font-size:11.6px;letter-spacing:0.6px" fill="#4c4c4c" text-anchor="middle"><text text-anchor="start" y="1125.75"><tspan x="20.6">G</tspan><tspan x="33.3" style="font-family:'Liberation Sans',sans-serif;font-size:12px">I</tspan><tspan x="40.5">CLZ1</tspan></text><text x="112" y="1125.75">0<tspan style="letter-spacing:2px">.</tspan>63</text><text x="168.4" y="1125.75">4000</text><text x="225.2" y="1125.75">25<tspan dx="0.8" textLength="9.5" lengthAdjust="spacingAndGlyphs">~</tspan><tspan dx="0.8">50</tspan></text><text x="285.65" y="1125.75">62<tspan dx="0.8" textLength="9.5" lengthAdjust="spacingAndGlyphs">~</tspan><tspan dx="0.8">112</tspan></text><text x="336.5" y="1125.75">125</text><text x="374.1" y="1125.75">95</text><text x="412" y="1125.75">60</text><text x="450.1" y="1125.75">80</text><text x="488.15" y="1125.75">57</text><text x="526" y="1125.75">37</text><text x="563.9" y="1125.75">2<tspan style="letter-spacing:2px">.</tspan>5</text><text x="609.5" y="1125.75">30</text><text x="662.8" y="1125.75">0<tspan style="letter-spacing:2px">.</tspan>01</text><text x="716.25" y="1125.75">5<tspan style="letter-spacing:2px">.</tspan>4</text><text text-anchor="start" y="1157.4"><tspan x="20.6">G</tspan><tspan x="33.3" style="font-family:'Liberation Sans',sans-serif;font-size:12px">I</tspan><tspan x="40.5">CLZ2</tspan></text><text x="112" y="1157.4">1<tspan style="letter-spacing:2px">.</tspan>12</text><text x="168.4" y="1157.4">4000</text><text x="225.2" y="1157.4">30<tspan dx="0.8" textLength="9.5" lengthAdjust="spacingAndGlyphs">~</tspan><tspan dx="0.8">60</tspan></text><text x="285.65" y="1157.4">82<tspan dx="0.8" textLength="9.5" lengthAdjust="spacingAndGlyphs">~</tspan><tspan dx="0.8">142</tspan></text><text x="336.5" y="1157.4">144</text><text x="374.1" y="1157.4">120</text><text x="412" y="1157.4">75</text><text x="450.1" y="1157.4">95</text><text x="488.15" y="1157.4">67</text><text x="526" y="1157.4">44</text><text x="563.9" y="1157.4">2<tspan style="letter-spacing:2px">.</tspan>5</text><text x="609.5" y="1157.4">60</text><text x="662.8" y="1157.4">0<tspan style="letter-spacing:2px">.</tspan>02</text><text x="716.25" y="1157.4">9<tspan style="letter-spacing:2px">.</tspan>2</text><text text-anchor="start" y="1189.05"><tspan x="20.6">G</tspan><tspan x="33.3" style="font-family:'Liberation Sans',sans-serif;font-size:12px">I</tspan><tspan x="40.5">CLZ3</tspan></text><text x="112" y="1189.05">2<tspan style="letter-spacing:2px">.</tspan>24</text><text x="168.4" y="1189.05">4000</text><text x="225.2" y="1189.05">30<tspan dx="0.8" textLength="9.5" lengthAdjust="spacingAndGlyphs">~</tspan><tspan dx="0.8">70</tspan></text><text x="285.65" y="1189.05">82<tspan dx="0.8" textLength="9.5" lengthAdjust="spacingAndGlyphs">~</tspan><tspan dx="0.8">142</tspan></text><text x="336.5" y="1189.05">174</text><text x="374.1" y="1189.05">140</text><text x="412" y="1189.05">95</text><text x="450.1" y="1189.05">115</text><text x="488.15" y="1189.05">77</text><text x="526" y="1189.05">53</text><text x="563.9" y="1189.05">3</text><text x="609.5" y="1189.05">80</text><text x="662.8" y="1189.05">0<tspan style="letter-spacing:2px">.</tspan>04</text><text x="716.25" y="1189.05">16<tspan style="letter-spacing:2px">.</tspan>4</text><text text-anchor="start" y="1220.69"><tspan x="20.6">G</tspan><tspan x="33.3" style="font-family:'Liberation Sans',sans-serif;font-size:12px">I</tspan><tspan x="40.5">CLZ4</tspan></text><text x="112" y="1220.69">3<tspan style="letter-spacing:2px">.</tspan>55</text><text x="168.4" y="1220.69">3600</text><text x="225.2" y="1220.69">40<tspan dx="0.8" textLength="9.5" lengthAdjust="spacingAndGlyphs">~</tspan><tspan dx="0.8">75</tspan></text><text x="285.65" y="1220.69">112<tspan dx="0.8" textLength="9.5" lengthAdjust="spacingAndGlyphs">~</tspan><tspan dx="0.8">142</tspan></text><text x="336.5" y="1220.69">196</text><text x="374.1" y="1220.69">165</text><text x="412" y="1220.69">115</text><text x="450.1" y="1220.69">130</text><text x="488.15" y="1220.69">89</text><text x="526" y="1220.69">62</text><text x="563.9" y="1220.69">3</text><text x="609.5" y="1220.69">90</text><text x="662.8" y="1220.69">0<tspan style="letter-spacing:2px">.</tspan>07</text><text x="716.25" y="1220.69">22<tspan style="letter-spacing:2px">.</tspan>7</text><text text-anchor="start" y="1252.34"><tspan x="20.6">G</tspan><tspan x="33.3" style="font-family:'Liberation Sans',sans-serif;font-size:12px">I</tspan><tspan x="40.5">CLZ5</tspan></text><text x="112" y="1252.34">5</text><text x="168.4" y="1252.34">3300</text><text x="225.2" y="1252.34">40<tspan dx="0.8" textLength="9.5" lengthAdjust="spacingAndGlyphs">~</tspan><tspan dx="0.8">90</tspan></text><text x="285.65" y="1252.34">112<tspan dx="0.8" textLength="9.5" lengthAdjust="spacingAndGlyphs">~</tspan><tspan dx="0.8">172</tspan></text><text x="336.5" y="1252.34">224</text><text x="374.1" y="1252.34">183</text><text x="412" y="1252.34">130</text><text x="450.1" y="1252.34">150</text><text x="488.15" y="1252.34">99</text><text x="526" y="1252.34">71</text><text x="563.9" y="1252.34">3</text><text x="609.5" y="1252.34">140</text><text x="662.8" y="1252.34">0<tspan style="letter-spacing:2px">.</tspan>15</text><text x="716.25" y="1252.34">36<tspan style="letter-spacing:2px">.</tspan>2</text><text text-anchor="start" y="1283.99"><tspan x="20.6">G</tspan><tspan x="33.3" style="font-family:'Liberation Sans',sans-serif;font-size:12px">I</tspan><tspan x="40.5">CLZ6</tspan></text><text x="112" y="1283.99">7<tspan style="letter-spacing:2px">.</tspan>1</text><text x="168.4" y="1283.99">3000</text><text x="225.2" y="1283.99">60<tspan dx="0.8" textLength="9.5" lengthAdjust="spacingAndGlyphs">~</tspan><tspan dx="0.8">95</tspan></text><text x="285.65" y="1283.99">142<tspan dx="0.8" textLength="9.5" lengthAdjust="spacingAndGlyphs">~</tspan><tspan dx="0.8">172</tspan></text><text x="336.5" y="1283.99">241</text><text x="374.1" y="1283.99">200</text><text x="412" y="1283.99">145</text><text x="450.1" y="1283.99">170</text><text x="488.15" y="1283.99">109</text><text x="526" y="1283.99">80</text><text x="563.9" y="1283.99">4</text><text x="609.5" y="1283.99">200</text><text x="662.8" y="1283.99">0<tspan style="letter-spacing:2px">.</tspan>24</text><text x="716.25" y="1283.99">46<tspan style="letter-spacing:2px">.</tspan>2</text><text text-anchor="start" y="1315.64"><tspan x="20.6">G</tspan><tspan x="33.3" style="font-family:'Liberation Sans',sans-serif;font-size:12px">I</tspan><tspan x="40.5">CLZ7</tspan></text><text x="112" y="1315.64">10</text><text x="168.4" y="1315.64">2680</text><text x="225.2" y="1315.64">60<tspan dx="0.8" textLength="9.5" lengthAdjust="spacingAndGlyphs">~</tspan><tspan dx="0.8">120</tspan></text><text x="285.65" y="1315.64">142<tspan dx="0.8" textLength="9.5" lengthAdjust="spacingAndGlyphs">~</tspan><tspan dx="0.8">212</tspan></text><text x="336.5" y="1315.64">260</text><text x="374.1" y="1315.64">230</text><text x="412" y="1315.64">160</text><text x="450.1" y="1315.64">190</text><text x="488.15" y="1315.64">122</text><text x="526" y="1315.64">90</text><text x="563.9" y="1315.64">4</text><text x="609.5" y="1315.64">290</text><text x="662.8" y="1315.64">0<tspan style="letter-spacing:2px">.</tspan>43</text><text x="716.25" y="1315.64">68<tspan style="letter-spacing:2px">.</tspan>4</text><text text-anchor="start" y="1347.29"><tspan x="20.6">G</tspan><tspan x="33.3" style="font-family:'Liberation Sans',sans-serif;font-size:12px">I</tspan><tspan x="40.5">CLZ8</tspan></text><text x="112" y="1347.29">14</text><text x="168.4" y="1347.29">2500</text><text x="225.2" y="1347.29">65<tspan dx="0.8" textLength="9.5" lengthAdjust="spacingAndGlyphs">~</tspan><tspan dx="0.8">130</tspan></text><text x="285.65" y="1347.29">142<tspan dx="0.8" textLength="9.5" lengthAdjust="spacingAndGlyphs">~</tspan><tspan dx="0.8">212</tspan></text><text x="336.5" y="1347.29">282</text><text x="374.1" y="1347.29">245</text><text x="412" y="1347.29">175</text><text x="450.1" y="1347.29">210</text><text x="488.15" y="1347.29">132</text><text x="526" y="1347.29">96</text><text x="563.9" y="1347.29">5</text><text x="609.5" y="1347.29">350</text><text x="662.8" y="1347.29">0<tspan style="letter-spacing:2px">.</tspan>61</text><text x="716.25" y="1347.29">81<tspan style="letter-spacing:2px">.</tspan>1</text><text text-anchor="start" y="1378.93"><tspan x="20.6">G</tspan><tspan x="33.3" style="font-family:'Liberation Sans',sans-serif;font-size:12px">I</tspan><tspan x="40.5">CLZ9</tspan></text><text x="112" y="1378.93">18</text><text x="168.4" y="1378.93">2350</text><text x="225.2" y="1378.93">80<tspan dx="0.8" textLength="9.5" lengthAdjust="spacingAndGlyphs">~</tspan><tspan dx="0.8">140</tspan></text><text x="285.65" y="1378.93">172<tspan dx="0.8" textLength="9.5" lengthAdjust="spacingAndGlyphs">~</tspan><tspan dx="0.8">252</tspan></text><text x="336.5" y="1378.93">314</text><text x="374.1" y="1378.93">270</text><text x="412" y="1378.93">200</text><text x="450.1" y="1378.93">225</text><text x="488.15" y="1378.93">142</text><text x="526" y="1378.93">104</text><text x="563.9" y="1378.93">5</text><text x="609.5" y="1378.93">370</text><text x="662.8" y="1378.93">0<tspan style="letter-spacing:2px">.</tspan>94</text><text x="716.25" y="1378.93">100</text><text text-anchor="start" y="1410.58"><tspan x="17.5">G</tspan><tspan x="30.2" style="font-family:'Liberation Sans',sans-serif;font-size:12px">I</tspan><tspan x="37.4">CLZ10</tspan></text><text x="112" y="1410.58">31<tspan style="letter-spacing:2px">.</tspan>5</text><text x="168.4" y="1410.58">2150</text><text x="225.2" y="1410.58">80<tspan dx="0.8" textLength="9.5" lengthAdjust="spacingAndGlyphs">~</tspan><tspan dx="0.8">160</tspan></text><text x="285.65" y="1410.58">172<tspan dx="0.8" textLength="9.5" lengthAdjust="spacingAndGlyphs">~</tspan><tspan dx="0.8">302</tspan></text><text x="336.5" y="1410.58">346</text><text x="374.1" y="1410.58">300</text><text x="412" y="1410.58">220</text><text x="450.1" y="1410.58">250</text><text x="488.15" y="1410.58">165</text><text x="526" y="1410.58">124</text><text x="563.9" y="1410.58">5</text><text x="609.5" y="1410.58">500</text><text x="662.8" y="1410.58">1<tspan style="letter-spacing:2px">.</tspan>67</text><text x="716.25" y="1410.58">147</text><text text-anchor="start" y="1442.23"><tspan x="17.5">G</tspan><tspan x="30.2" style="font-family:'Liberation Sans',sans-serif;font-size:12px">I</tspan><tspan x="37.4">CLZ11</tspan></text><text x="112" y="1442.23">40</text><text x="168.4" y="1442.23">1880</text><text x="225.2" y="1442.23">100<tspan dx="0.8" textLength="9.5" lengthAdjust="spacingAndGlyphs">~</tspan><tspan dx="0.8">180</tspan></text><text x="285.65" y="1442.23">212<tspan dx="0.8" textLength="9.5" lengthAdjust="spacingAndGlyphs">~</tspan><tspan dx="0.8">302</tspan></text><text x="336.5" y="1442.23">380</text><text x="374.1" y="1442.23">330</text><text x="412" y="1442.23">260</text><text x="450.1" y="1442.23">285</text><text x="488.15" y="1442.23">180</text><text x="526" y="1442.23">133</text><text x="563.9" y="1442.23">6</text><text x="609.5" y="1442.23">650</text><text x="662.8" y="1442.23">3</text><text x="716.25" y="1442.23">206</text><text text-anchor="start" y="1473.88"><tspan x="17.5">G</tspan><tspan x="30.2" style="font-family:'Liberation Sans',sans-serif;font-size:12px">I</tspan><tspan x="37.4">CLZ12</tspan></text><text x="112" y="1473.88">56</text><text x="168.4" y="1473.88">1680</text><text x="225.2" y="1473.88">120<tspan dx="0.8" textLength="9.5" lengthAdjust="spacingAndGlyphs">~</tspan><tspan dx="0.8">200</tspan></text><text x="285.65" y="1473.88">212<tspan dx="0.8" textLength="9.5" lengthAdjust="spacingAndGlyphs">~</tspan><tspan dx="0.8">352</tspan></text><text x="336.5" y="1473.88">442</text><text x="374.1" y="1473.88">380</text><text x="412" y="1473.88">290</text><text x="450.1" y="1473.88">325</text><text x="488.15" y="1473.88">208</text><text x="526" y="1473.88">156</text><text x="563.9" y="1473.88">6</text><text x="609.5" y="1473.88">1100</text><text x="662.8" y="1473.88">5<tspan style="letter-spacing:2px">.</tspan>3</text><text x="716.25" y="1473.88">284</text><text text-anchor="start" y="1505.53"><tspan x="17.5">G</tspan><tspan x="30.2" style="font-family:'Liberation Sans',sans-serif;font-size:12px">I</tspan><tspan x="37.4">CLZ13</tspan></text><text x="112" y="1505.53">80</text><text x="168.4" y="1505.53">1530</text><text x="225.2" y="1505.53">140<tspan dx="0.8" textLength="9.5" lengthAdjust="spacingAndGlyphs">~</tspan><tspan dx="0.8">220</tspan></text><text x="285.65" y="1505.53">252<tspan dx="0.8" textLength="9.5" lengthAdjust="spacingAndGlyphs">~</tspan><tspan dx="0.8">352</tspan></text><text x="336.5" y="1505.53">482</text><text x="374.1" y="1505.53">420</text><text x="412" y="1505.53">320</text><text x="450.1" y="1505.53">360</text><text x="488.15" y="1505.53">238</text><text x="526" y="1505.53">182</text><text x="563.9" y="1505.53">7</text><text x="609.5" y="1505.53">1600</text><text x="662.8" y="1505.53">9<tspan style="letter-spacing:2px">.</tspan>2</text><text x="716.25" y="1505.53">402</text><text text-anchor="start" y="1537.17"><tspan x="17.5">G</tspan><tspan x="30.2" style="font-family:'Liberation Sans',sans-serif;font-size:12px">I</tspan><tspan x="37.4">CLZ14</tspan></text><text x="112" y="1537.17">112</text><text x="168.4" y="1537.17">1300</text><text x="225.2" y="1537.17">160<tspan dx="0.8" textLength="9.5" lengthAdjust="spacingAndGlyphs">~</tspan><tspan dx="0.8">250</tspan></text><text x="285.65" y="1537.17">302<tspan dx="0.8" textLength="9.5" lengthAdjust="spacingAndGlyphs">~</tspan><tspan dx="0.8">410</tspan></text><text x="336.5" y="1537.17">520</text><text x="374.1" y="1537.17">465</text><text x="412" y="1537.17">360</text><text x="450.1" y="1537.17">410</text><text x="488.15" y="1537.17">266</text><text x="526" y="1537.17">207</text><text x="563.9" y="1537.17">8</text><text x="609.5" y="1537.17">2300</text><text x="662.8" y="1537.17">16</text><text x="716.25" y="1537.17">582</text><text text-anchor="start" y="1568.82"><tspan x="17.5">G</tspan><tspan x="30.2" style="font-family:'Liberation Sans',sans-serif;font-size:12px">I</tspan><tspan x="37.4">CLZ15</tspan></text><text x="112" y="1568.82">160</text><text x="168.4" y="1568.82">1180</text><text x="225.2" y="1568.82">190<tspan dx="0.8" textLength="9.5" lengthAdjust="spacingAndGlyphs">~</tspan><tspan dx="0.8">280</tspan></text><text x="285.65" y="1568.82">352<tspan dx="0.8" textLength="9.5" lengthAdjust="spacingAndGlyphs">~</tspan><tspan dx="0.8">470</tspan></text><text x="336.5" y="1568.82">580</text><text x="374.1" y="1568.82">510</text><text x="412" y="1568.82">400</text><text x="450.1" y="1568.82">450</text><text x="488.15" y="1568.82">278</text><text x="526" y="1568.82">214</text><text x="563.9" y="1568.82">10</text><text x="609.5" y="1568.82">2600</text><text x="662.8" y="1568.82">26</text><text x="716.25" y="1568.82">778</text><text text-anchor="start" y="1600.47"><tspan x="17.5">G</tspan><tspan x="30.2" style="font-family:'Liberation Sans',sans-serif;font-size:12px">I</tspan><tspan x="37.4">CLZ16</tspan></text><text x="112" y="1600.47">250</text><text x="168.4" y="1600.47">1000</text><text x="225.2" y="1600.47">200<tspan dx="0.8" textLength="9.5" lengthAdjust="spacingAndGlyphs">~</tspan><tspan dx="0.8">320</tspan></text><text x="285.65" y="1600.47">352<tspan dx="0.8" textLength="9.5" lengthAdjust="spacingAndGlyphs">~</tspan><tspan dx="0.8">470</tspan></text><text x="336.5" y="1600.47">680</text><text x="374.1" y="1600.47">595</text><text x="412" y="1600.47">465</text><text x="450.1" y="1600.47">500</text><text x="488.15" y="1600.47">320</text><text x="526" y="1600.47">250</text><text x="563.9" y="1600.47">10</text><text x="609.5" y="1600.47">4100</text><text x="662.8" y="1600.47">47</text><text x="716.25" y="1600.47">1071</text><text text-anchor="start" y="1632.12"><tspan x="17.5">G</tspan><tspan x="30.2" style="font-family:'Liberation Sans',sans-serif;font-size:12px">I</tspan><tspan x="37.4">CLZ17</tspan></text><text x="112" y="1632.12">280</text><text x="168.4" y="1632.12">980</text><text x="225.2" y="1632.12">200<tspan dx="0.8" textLength="9.5" lengthAdjust="spacingAndGlyphs">~</tspan><tspan dx="0.8">320</tspan></text><text x="285.65" y="1632.12">352<tspan dx="0.8" textLength="9.5" lengthAdjust="spacingAndGlyphs">~</tspan><tspan dx="0.8">470</tspan></text><text x="336.5" y="1632.12">720</text><text x="374.1" y="1632.12">645</text><text x="412" y="1632.12">495</text><text x="450.1" y="1632.12">530</text><text x="488.15" y="1632.12">336</text><text x="526" y="1632.12">256</text><text x="563.9" y="1632.12">10</text><text x="609.5" y="1632.12">5100</text><text x="662.8" y="1632.12">61</text><text x="716.25" y="1632.12">1210</text><text text-anchor="start" y="1663.77"><tspan x="17.5">G</tspan><tspan x="30.2" style="font-family:'Liberation Sans',sans-serif;font-size:12px">I</tspan><tspan x="37.4">CLZ18</tspan></text><text x="112" y="1663.77">355</text><text x="168.4" y="1663.77">900</text><text x="225.2" y="1663.77">240<tspan dx="0.8" textLength="9.5" lengthAdjust="spacingAndGlyphs">~</tspan><tspan dx="0.8">340</tspan></text><text x="285.65" y="1663.77">410<tspan dx="0.8" textLength="9.5" lengthAdjust="spacingAndGlyphs">~</tspan><tspan dx="0.8">550</tspan></text><text x="336.5" y="1663.77">775</text><text x="374.1" y="1663.77">675</text><text x="412" y="1663.77">520</text><text x="450.1" y="1663.77">540</text><text x="488.15" y="1663.77">351</text><text x="526" y="1663.77">262</text><text x="563.9" y="1663.77">10</text><text x="609.5" y="1663.77">6000</text><text x="662.8" y="1663.77">82</text><text x="716.25" y="1663.77">1475</text><text text-anchor="start" y="1695.41"><tspan x="17.5">G</tspan><tspan x="30.2" style="font-family:'Liberation Sans',sans-serif;font-size:12px">I</tspan><tspan x="37.4">CLZ19</tspan></text><text x="112" y="1695.41">450</text><text x="168.4" y="1695.41">830</text><text x="225.2" y="1695.41">260<tspan dx="0.8" textLength="9.5" lengthAdjust="spacingAndGlyphs">~</tspan><tspan dx="0.8">360</tspan></text><text x="285.65" y="1695.41">410<tspan dx="0.8" textLength="9.5" lengthAdjust="spacingAndGlyphs">~</tspan><tspan dx="0.8">550</tspan></text><text x="336.5" y="1695.41">815</text><text x="374.1" y="1695.41">715</text><text x="412" y="1695.41">560</text><text x="450.1" y="1695.41">580</text><text x="488.15" y="1695.41">372</text><text x="526" y="1695.41">280</text><text x="563.9" y="1695.41">10</text><text x="609.5" y="1695.41">6700</text><text x="662.8" y="1695.41">101</text><text x="716.25" y="1695.41">1603</text><text text-anchor="start" y="1727.06"><tspan x="17.5">G</tspan><tspan x="30.2" style="font-family:'Liberation Sans',sans-serif;font-size:12px">I</tspan><tspan x="37.4">CLZ20</tspan></text><text x="112" y="1727.06">500</text><text x="168.4" y="1727.06">790</text><text x="225.2" y="1727.06">280<tspan dx="0.8" textLength="9.5" lengthAdjust="spacingAndGlyphs">~</tspan><tspan dx="0.8">380</tspan></text><text x="285.65" y="1727.06">470<tspan dx="0.8" textLength="9.5" lengthAdjust="spacingAndGlyphs">~</tspan><tspan dx="0.8">550</tspan></text><text x="336.5" y="1727.06">855</text><text x="374.1" y="1727.06">755</text><text x="412" y="1727.06">585</text><text x="450.1" y="1727.06">600</text><text x="488.15" y="1727.06">393</text><text x="526" y="1727.06">297</text><text x="563.9" y="1727.06">13</text><text x="609.5" y="1727.06">8100</text><text x="662.8" y="1727.06">140</text><text x="716.25" y="1727.06">2033</text><text text-anchor="start" y="1758.71"><tspan x="17.5">G</tspan><tspan x="30.2" style="font-family:'Liberation Sans',sans-serif;font-size:12px">I</tspan><tspan x="37.4">CLZ21</tspan></text><text x="112" y="1758.71">630</text><text x="168.4" y="1758.71">750</text><text x="225.2" y="1758.71">300<tspan dx="0.8" textLength="9.5" lengthAdjust="spacingAndGlyphs">~</tspan><tspan dx="0.8">400</tspan></text><text x="285.65" y="1758.71">470<tspan dx="0.8" textLength="9.5" lengthAdjust="spacingAndGlyphs">~</tspan><tspan dx="0.8">650</tspan></text><text x="336.5" y="1758.71">915</text><text x="374.1" y="1758.71">795</text><text x="412" y="1758.71">620</text><text x="450.1" y="1758.71">640</text><text x="488.15" y="1758.71">404</text><text x="526" y="1758.71">305</text><text x="563.9" y="1758.71">13</text><text x="609.5" y="1758.71">10500</text><text x="662.8" y="1758.71">184</text><text x="716.25" y="1758.71">2385</text><text text-anchor="start" y="1790.36"><tspan x="17.5">G</tspan><tspan x="30.2" style="font-family:'Liberation Sans',sans-serif;font-size:12px">I</tspan><tspan x="37.4">CLZ22</tspan></text><text x="112" y="1790.36">710</text><text x="168.4" y="1790.36">720</text><text x="225.2" y="1790.36">340<tspan dx="0.8" textLength="9.5" lengthAdjust="spacingAndGlyphs">~</tspan><tspan dx="0.8">420</tspan></text><text x="285.65" y="1790.36">550<tspan dx="0.8" textLength="9.5" lengthAdjust="spacingAndGlyphs">~</tspan><tspan dx="0.8">650</tspan></text><text x="336.5" y="1790.36">960</text><text x="374.1" y="1790.36">840</text><text x="412" y="1790.36">665</text><text x="450.1" y="1790.36">680</text><text x="488.15" y="1790.36">415</text><text x="526" y="1790.36">316</text><text x="563.9" y="1790.36">13</text><text x="609.5" y="1790.36">14000</text><text x="662.8" y="1790.36">235</text><text x="716.25" y="1790.36">2458</text><text text-anchor="start" y="1822.01"><tspan x="17.5">G</tspan><tspan x="30.2" style="font-family:'Liberation Sans',sans-serif;font-size:12px">I</tspan><tspan x="37.4">CLZ23</tspan></text><text x="112" y="1822.01">800</text><text x="168.4" y="1822.01">680</text><text x="225.2" y="1822.01">360<tspan dx="0.8" textLength="9.5" lengthAdjust="spacingAndGlyphs">~</tspan><tspan dx="0.8">450</tspan></text><text x="285.65" y="1822.01">550<tspan dx="0.8" textLength="9.5" lengthAdjust="spacingAndGlyphs">~</tspan><tspan dx="0.8">650</tspan></text><text x="336.5" y="1822.01">1010</text><text x="374.1" y="1822.01">890</text><text x="412" y="1822.01">710</text><text x="450.1" y="1822.01">720</text><text x="488.15" y="1822.01">435</text><text x="526" y="1822.01">333</text><text x="563.9" y="1822.01">13</text><text x="609.5" y="1822.01">15000</text><text x="662.8" y="1822.01">323</text><text x="716.25" y="1822.01">3332</text><text text-anchor="start" y="1853.65"><tspan x="17.5">G</tspan><tspan x="30.2" style="font-family:'Liberation Sans',sans-serif;font-size:12px">I</tspan><tspan x="37.4">CLZ24</tspan></text><text x="112" y="1853.65">1000</text><text x="168.4" y="1853.65">680</text><text x="225.2" y="1853.65">380<tspan dx="0.8" textLength="9.5" lengthAdjust="spacingAndGlyphs">~</tspan><tspan dx="0.8">480</tspan></text><text x="285.65" y="1853.65">550<tspan dx="0.8" textLength="9.5" lengthAdjust="spacingAndGlyphs">~</tspan><tspan dx="0.8">650</tspan></text><text x="336.5" y="1853.65">1050</text><text x="374.1" y="1853.65">925</text><text x="412" y="1853.65">730</text><text x="450.1" y="1853.65">760</text><text x="488.15" y="1853.65">445</text><text x="526" y="1853.65">342</text><text x="563.9" y="1853.65">15</text><text x="609.5" y="1853.65">16500</text><text x="662.8" y="1853.65">389</text><text x="716.25" y="1853.65">3639</text><text text-anchor="start" y="1885.3"><tspan x="17.5">G</tspan><tspan x="30.2" style="font-family:'Liberation Sans',sans-serif;font-size:12px">I</tspan><tspan x="37.4">CLZ25</tspan></text><text x="112" y="1885.3">1120</text><text x="168.4" y="1885.3">610</text><text x="225.2" y="1885.3">400<tspan dx="0.8" textLength="9.5" lengthAdjust="spacingAndGlyphs">~</tspan><tspan dx="0.8">500</tspan></text><text x="285.65" y="1885.3">650</text><text x="336.5" y="1885.3">1120</text><text x="374.1" y="1885.3">970</text><text x="412" y="1885.3">770</text><text x="450.1" y="1885.3">800</text><text x="488.15" y="1885.3">465</text><text x="526" y="1885.3">362</text><text x="563.9" y="1885.3">15</text><text x="609.5" y="1885.3">18000</text><text x="662.8" y="1885.3">485</text><text x="716.25" y="1885.3">4073</text></g><g class="cjkb" fill="#333" style="font-size:11.8px;letter-spacing:0.25px"><text x="33.67" y="1077.3">型号</text><text x="87.62" y="1065">公称转矩</text><text x="144.03" y="1065">许用转速</text><text x="201.33" y="1065">轴孔直径</text><text x="262.27" y="1064">轴孔长度</text><text x="591.4" y="1064" style="letter-spacing:0">润滑脂</text><text x="597.3" y="1076.6" style="letter-spacing:0">用量</text><text x="650.98" y="1064">转动</text><text x="650.98" y="1076.6">惯量</text><text x="702.43" y="1064">重量</text></g><g style="font-family:'Liberation Serif',serif;font-size:11.8px;letter-spacing:0.45px" fill="#4c4c4c" text-anchor="middle"><text x="111.6" y="1077.8" style="letter-spacing:1.2px">Tn</text><text x="111.6" y="1089.8">KN<tspan dx="4" style="font-weight:bold;font-size:14px">·</tspan><tspan dx="3.5">m</tspan></text><text x="168" y="1077.8">[n]</text><text x="168" y="1089.8">r/min</text><text x="225.3" y="1089.8">d<tspan style="font-size:8px">1</tspan><tspan dx="8">d</tspan><tspan style="font-size:8px">2</tspan></text><text x="286.25" y="1077.8">L</text><text x="286.25" y="1089.8">Y</text><text x="335.6" y="1076.3">D</text><text x="373.1" y="1076.3">D<tspan style="font-size:8.5px">1</tspan></text><text x="411" y="1076.3">D<tspan style="font-size:8.5px">2</tspan></text><text x="449.1" y="1076.3">D<tspan style="font-size:8.5px">3</tspan></text><text x="487.75" y="1076.3">B</text><text x="525.6" y="1076.3">A</text><text x="563.5" y="1076.3">C</text><text x="609.1" y="1090.5">ml</text><text x="662.9" y="1090.5">kg<tspan style="font-size:14px" dy="1">·</tspan><tspan dy="-1">m</tspan><tspan style="font-size:7px" dy="-4">2</tspan></text><text x="714.35" y="1087.8">kg</text></g><text x="222.3" y="1090" fill="#333" style="font-family:'Liberation Serif','Noto Serif CJK SC',serif;font-size:10px">、</text><g class="cjkm" fill="#222" style="font-size:10.8px;letter-spacing:1.04px"><text x="17.8" y="1914.5">注：</text><text x="41.48" y="1914.5">1</text><text x="47.59" y="1914.5">、联轴器质量和转动惯量是按各型号中最小轴孔直径和最大轴孔长度计算的近似值；</text><text x="39.6" y="1931.6">2</text><text x="46.79" y="1931.6">、当选用标准规格尺寸以外或对齿面有特殊硬化处理时，请与厂家联系；</text><text x="37.3" y="1948.7">3</text><text x="44.46" y="1948.7">、轴孔直径与长度按用户需要确定。</text></g></svg>
</body></html>
